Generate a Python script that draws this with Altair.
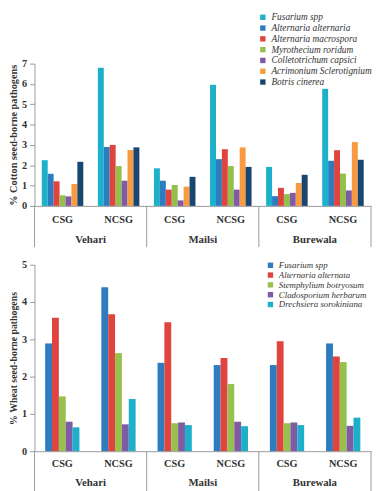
import altair as alt
import pandas as pd

groups = ["Vehari|CSG", "Vehari|NCSG", "Mailsi|CSG", "Mailsi|NCSG", "Burewala|CSG", "Burewala|NCSG"]
regions = ["Vehari", "Mailsi", "Burewala"]

cotton_series = ["Fusarium spp", "Alternaria alternaria", "Alternaria macrospora",
                 "Myrothecium roridum", "Colletotrichum capsici", "Acrimonium Sclerotignium",
                 "Botris cinerea"]
cotton_colors = ["#1cb0cb", "#2d7cbf", "#e0443f", "#92c04b", "#7f5ba6", "#f89a3f", "#18466f"]
c_fusarium = [2.25, 6.8, 1.85, 5.96, 1.92, 5.76]
c_alternaria = [1.58, 2.9, 1.24, 2.3, 0.48, 2.22]
c_macrospora = [1.21, 3.0, 0.8, 2.79, 0.89, 2.74]
c_myrothecium = [0.52, 1.96, 1.03, 1.96, 0.58, 1.59]
c_colletotrichum = [0.47, 1.24, 0.27, 0.8, 0.64, 0.76]
c_acrimonium = [1.08, 2.75, 0.95, 2.88, 1.13, 3.14]
c_botris = [2.17, 2.88, 1.43, 1.92, 1.53, 2.27]
cotton_values = [c_fusarium, c_alternaria, c_macrospora, c_myrothecium,
                 c_colletotrichum, c_acrimonium, c_botris]

wheat_series = ["Fusarium spp", "Alternaria alternata", "Stemphylium botryosum",
                "Cladosporium herbarum", "Drechsiera sorokiniana"]
wheat_colors = ["#2d7cbf", "#e0443f", "#98c04e", "#7f5ba6", "#1cb0cb"]
w_fusarium = [2.89, 4.4, 2.37, 2.31, 2.31, 2.89]
w_alternata = [3.58, 3.67, 3.46, 2.5, 2.95, 2.54]
w_stemphylium = [1.47, 2.63, 0.75, 1.8, 0.75, 2.39]
w_cladosporium = [0.79, 0.72, 0.77, 0.79, 0.77, 0.68]
w_drechsiera = [0.64, 1.4, 0.7, 0.67, 0.7, 0.9]
wheat_values = [w_fusarium, w_alternata, w_stemphylium, w_cladosporium, w_drechsiera]

FONT = "Liberation Serif"
AXIS_COLOR = "#9a9a9a"
W = 343


def panel(series, colors, values, ymax, height, title, pad_in, pad_out,
          legend_x, legend_y, title_size, leg_font, lab_pad, reg_off):
    rows = []
    for s, vals in zip(series, values):
        for g, v in zip(groups, vals):
            rows.append({"grp": g, "series": s, "value": v})
    df = pd.DataFrame(rows)

    bars = alt.Chart(df).mark_bar().encode(
        x=alt.X("grp:N", sort=groups,
                scale=alt.Scale(paddingInner=pad_in, paddingOuter=pad_out),
                axis=alt.Axis(title=None, labelExpr="split(datum.label, '|')[1]",
                              labelAngle=0, ticks=False, domainColor=AXIS_COLOR,
                              labelFont=FONT, labelFontWeight="bold", labelFontSize=10.5,
                              labelColor="#333", labelPadding=lab_pad)),
        xOffset=alt.XOffset("series:N", sort=series,
                            scale=alt.Scale(paddingInner=0, paddingOuter=0)),
        y=alt.Y("value:Q", scale=alt.Scale(domain=[0, ymax], nice=False),
                axis=alt.Axis(title=title, values=list(range(ymax + 1)), grid=False,
                              domainColor=AXIS_COLOR, tickColor=AXIS_COLOR, tickSize=5,
                              labelFont=FONT, labelFontWeight="bold", labelFontSize=10.5,
                              labelColor="#333", labelPadding=3,
                              titleFont=FONT, titleFontWeight="bold",
                              titleFontSize=title_size, titleColor="#333",
                              titlePadding=3)),
        color=alt.Color("series:N", sort=series,
                        scale=alt.Scale(domain=series, range=colors),
                        legend=alt.Legend(title=None, orient="none",
                                          legendX=legend_x, legendY=legend_y,
                                          symbolType="square", symbolSize=30,
                                          labelFont=FONT, labelFontStyle="italic",
                                          labelFontSize=leg_font, labelColor="#333",
                                          rowPadding=0, padding=0, labelOffset=4)),
    )

    reg_df = pd.DataFrame({"pos": [0.5, 1.5, 2.5], "region": regions})
    sep_df = pd.DataFrame({"pos": [0, 1, 2, 3]})
    xq = alt.X("pos:Q", scale=alt.Scale(domain=[0, 3], nice=False), axis=None)

    labels = alt.Chart(reg_df).mark_text(
        font=FONT, fontWeight="bold", fontSize=11, color="#333", baseline="middle"
    ).encode(x=xq, y=alt.value(height + reg_off), text="region:N")

    seps = alt.Chart(sep_df).mark_rule(color=AXIS_COLOR, strokeWidth=1).encode(
        x=xq, y=alt.value(height), y2=alt.value(height + 42))

    return alt.layer(bars, seps, labels).resolve_scale(x="independent").properties(
        width=W, height=height)


top = panel(cotton_series, cotton_colors, cotton_values, 7, 145,
            "% Cotton seed-borne pathogens", 0.26, 0.13, 228, -52, 10.5, 9.5, 9, 35)
bottom = panel(wheat_series, wheat_colors, wheat_values, 5, 190,
               "% Wheat seed-borne pathogens", 0.39, 0.19, 236, -4, 10, 9, 8, 32)

chart = alt.vconcat(top, bottom, spacing=12).resolve_scale(
    color="independent", xOffset="independent"
).properties(padding=0).configure_view(stroke=None)

chart.save("out.html", embed_options={"renderer": "svg", "actions": False})
